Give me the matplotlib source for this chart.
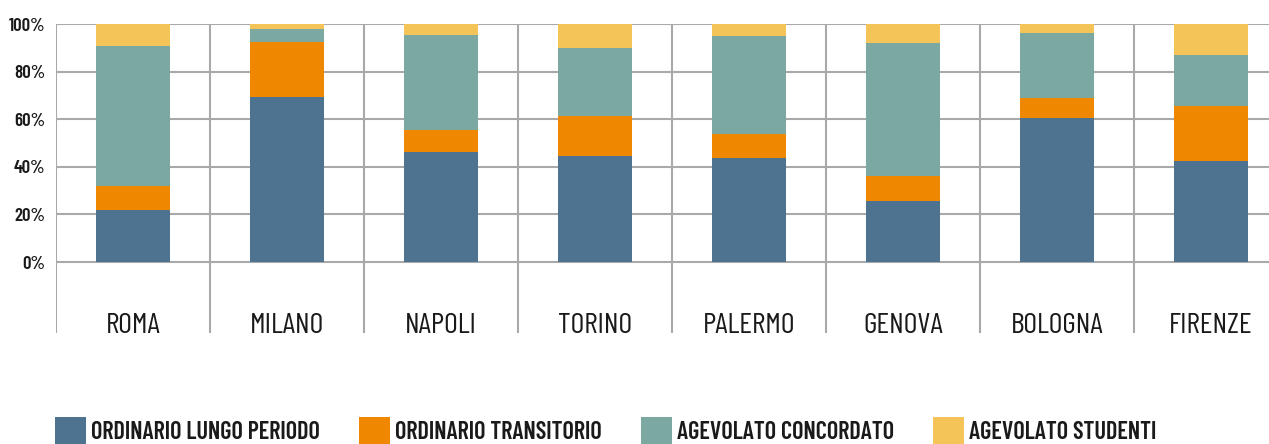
import matplotlib.pyplot as plt
import numpy as np

cities = ["ROMA", "MILANO", "NAPOLI", "TORINO", "PALERMO", "GENOVA", "BOLOGNA", "FIRENZE"]
series = ["ORDINARIO LUNGO PERIODO", "ORDINARIO TRANSITORIO",
          "AGEVOLATO CONCORDATO", "AGEVOLATO STUDENTI"]
lungo = [21.8, 69.3, 46.2, 44.5, 43.7, 25.6, 60.5, 42.4]
transitorio = [10.2, 23.1, 9.3, 16.8, 10.1, 10.5, 8.4, 23.3]
concordato = [58.8, 5.5, 39.9, 28.6, 41.2, 55.9, 27.3, 21.3]
studenti = [9.2, 2.1, 4.6, 10.1, 5.0, 8.0, 3.8, 13.0]
colors = ["#4e7391", "#f08700", "#7ba8a1", "#f5c458"]
yticks = [0, 20, 40, 60, 80, 100]

# condensed face, falling back if not installed
font = ["Barlow Condensed", "Roboto Condensed", "Liberation Sans Narrow", "DejaVu Sans"]
grid_col = "#a9a9a9"
txt_col = "#1a1a1a"

fig = plt.figure(figsize=(12.69, 4.44), dpi=100)
ax = fig.add_axes([56 / 1269, 111 / 444, 1 - 56 / 1269, 309 / 444])

x = np.arange(len(cities))
bottom = np.zeros(len(cities))
handles = []
for vals, col in zip([lungo, transitorio, concordato, studenti], colors):
    b = ax.bar(x, vals, 0.48, bottom=bottom, color=col, zorder=3)
    handles.append(b)
    bottom += np.array(vals)

# horizontal grid
for t in yticks:
    ax.axhline(t, color=grid_col, lw=1.5, zorder=1)
# vertical separators between cities
for s in np.arange(-0.5, len(cities), 1):
    ax.axvline(s, color=grid_col, lw=1.5, zorder=1)

ax.set_xlim(-0.5, (1269 - 56) / 154 - 0.5)
ax.set_ylim(-29.8, 100)
for sp in ax.spines.values():
    sp.set_visible(False)
ax.set_xticks([])
ax.set_yticks(yticks)
ax.set_yticklabels([f"{t}%" for t in yticks], fontfamily=font, fontsize=13.5,
                   fontweight=600, color=txt_col)
ax.tick_params(axis="y", length=0, pad=8)

for i, c in enumerate(cities):
    ax.text(i, -26.9, c, ha="center", va="center", fontfamily=font, fontsize=21.5,
            color=txt_col)

fig.legend(handles, series, loc="center left", bbox_to_anchor=(55 / 1269, 0.03),
           ncol=4, frameon=False, borderpad=0, borderaxespad=0,
           handlelength=1.27, handleheight=1.4, handletextpad=0.22,
           columnspacing=1.6, labelcolor=txt_col,
           prop={"family": font, "size": 17.5, "weight": 600})

fig.savefig("out.png", dpi=100)
